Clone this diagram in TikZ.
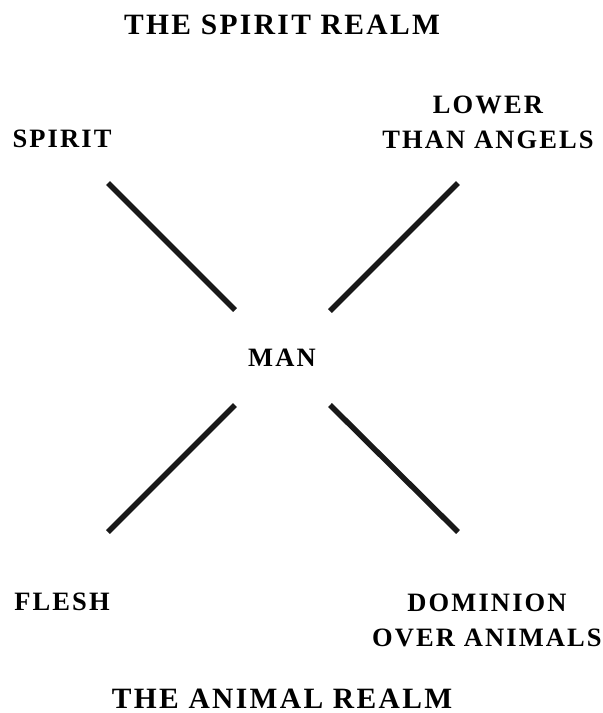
\documentclass[tikz,border=0pt]{standalone}
\usepackage{fontspec}
\setmainfont{Liberation Serif}[LetterSpace=8]
\usetikzlibrary{positioning}

\begin{document}
\begin{tikzpicture}[x=1pt,y=-1pt,
  realm/.style={font=\bfseries\fontsize{29.5}{34}\selectfont,inner sep=0pt},
  lbl/.style={font=\bfseries\fontsize{26.5}{35}\selectfont,align=center,inner sep=0pt},
  bar/.style={line width=5.5pt,color=black!90}
]
\useasboundingbox (0,0) rectangle (603,713);
\node[realm] (spiritrealm) at (282,25)  {THE SPIRIT REALM};
\node[realm] (animalrealm) at (282,699) {THE ANIMAL REALM};

\node[lbl] (man)      at (282,358) {MAN};
\node[lbl] (spirit)   at (62,139)  {SPIRIT};
\node[lbl] (lower)    at (488,122) {LOWER\\THAN ANGELS};
\node[lbl] (flesh)    at (62,602)  {FLESH};
\node[lbl] (dominion) at (487,620) {DOMINION\\OVER ANIMALS};

% ends of the four bars
\coordinate (nwout) at (108,183);
\coordinate (nwin)  at (235,310);
\coordinate (neout) at (458,183);
\coordinate (nein)  at (330,311);
\coordinate (swout) at (108,532);
\coordinate (swin)  at (235,405);
\coordinate (seout) at (458,532);
\coordinate (sein)  at (330,405);

\draw[bar] (nwout) -- (nwin);
\draw[bar] (neout) -- (nein);
\draw[bar] (swout) -- (swin);
\draw[bar] (seout) -- (sein);
\end{tikzpicture}
\end{document}
